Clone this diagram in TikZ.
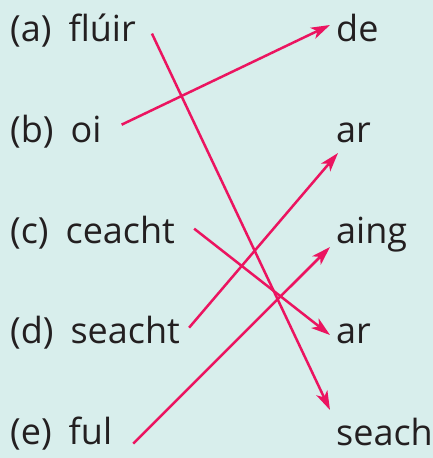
\documentclass[tikz,border=0pt]{standalone}
\usepackage{fontspec}
\setmainfont{Open Sans}
\usetikzlibrary{arrows.meta}
\definecolor{bgteal}{HTML}{D8EEEC}
\definecolor{linkpink}{HTML}{EB1460}
\definecolor{inkgrey}{HTML}{231F20}
\newcommand\wordfont{\fontsize{36}{40}\selectfont\spaceskip=17pt plus 0pt minus 0pt\relax}
\begin{document}
\begin{tikzpicture}[x=1pt,y=-1pt,
  word/.style={anchor=base west,inner sep=0pt,text=inkgrey,font=\wordfont},
  link/.style={-{Stealth[length=19pt,width=12pt,inset=5pt]},line width=2.5pt,draw=linkpink}]
  \fill[bgteal] (0,0) rectangle (433,458);
  % left column
  \node[word] (a) at (10,41) {(a) flúir};
  \node[word] (b) at (10,142) {(b) oi};
  \node[word] (c) at (10,243) {(c) ceacht};
  \node[word] (d) at (10,343) {(d) seacht};
  \node[word] (e) at (10,444) {(e) ful};
  % right column
  \node[word] (de) at (336,41) {de};
  \node[word] (ar1) at (336,142) {ar};
  \node[word] (aing) at (336,243) {aing};
  \node[word] (ar2) at (336,343) {ar};
  \node[word] (seach) at (336,445) {seach};
  % matches
  \draw[link] ([shift={(16,3.5)}]a.east) -- ([shift={(-6,-35)}]seach.base west);
  \draw[link] ([shift={(20,-6.5)}]b.east) -- ([shift={(-6,-16)}]de.base west);
  \draw[link] ([shift={(19,-3.5)}]c.east) -- ([shift={(-6,-8)}]ar2.base west);
  \draw[link] ([shift={(9,-4.5)}]d.east) -- ([shift={(2,11)}]ar1.base west);
  \draw[link] ([shift={(21,10.5)}]e.east) -- ([shift={(-6,4)}]aing.base west);
\end{tikzpicture}
\end{document}
